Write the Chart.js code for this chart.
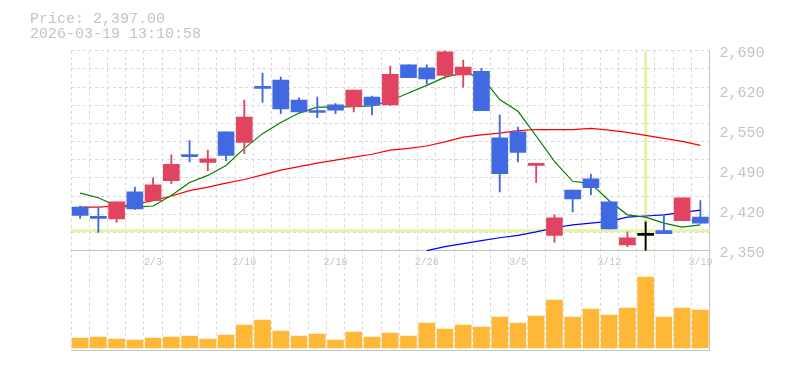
<!DOCTYPE html>
<html>
<head>
<meta charset="utf-8">
<script src="https://cdn.jsdelivr.net/npm/chart.js@4/dist/chart.umd.min.js"></script>
<style>
    body { margin: 0; background: #fff; }
    #wrap { position: relative; width: 785px; height: 370px; }
    .info { position: absolute; left: 30px; font-family: "Liberation Mono", monospace; font-size: 15px; line-height: 15px; color: #c4c4c4; white-space: pre; }
</style>
</head>
<body>
<div id="wrap">
    <canvas id="chart" width="785" height="370"></canvas>
    <div class="info" style="top: 12px;">Price: 2,397.00</div>
    <div class="info" style="top: 27px;">2026-03-19 13:10:58</div>
</div>
<script>
// trading days
const dates = ['1/28','1/29','1/30','2/2','2/3','2/4','2/5','2/6','2/9','2/10',
    '2/12','2/13','2/16','2/17','2/18','2/19','2/20','2/24','2/25','2/26',
    '2/27','3/2','3/3','3/4','3/5','3/6','3/9','3/10','3/11','3/12',
    '3/13','3/16','3/17','3/18','3/19'];
const xLabels = ['2/3','2/10','2/18','2/26','3/5','3/12','3/19'];

const open  = [2424,2406,2404,2450,2435,2469,2512,2500,2552,2534,2629,2640,2606,2588,2598,2595,2611,2598,2666,2661,2648,2649,2655,2542,2552,2495,2376,2453,2472,2433,2360,2376,2384,2401,2407];
const high  = [2426,2423,2433,2458,2474,2513,2537,2521,2552,2606,2652,2645,2610,2611,2600,2623,2613,2664,2666,2666,2690,2674,2660,2581,2560,2497,2411,2453,2480,2433,2382,2399,2412,2440,2435];
const low   = [2405,2381,2398,2420,2435,2464,2501,2486,2503,2515,2602,2583,2586,2576,2583,2586,2581,2597,2644,2633,2643,2628,2588,2450,2501,2466,2364,2416,2445,2387,2357,2345,2379,2401,2397];
const close = [2410,2405,2433,2421,2462,2497,2510,2506,2512,2577,2626,2591,2586,2585,2589,2623,2597,2650,2644,2642,2688,2662,2588,2481,2517,2497,2406,2438,2457,2387,2372,2376,2379,2440,2397];

const ma5  = [2448,2440,2426,2424,2426,2444,2466,2478,2495,2524,2549,2568,2584,2594,2594,2595,2596,2605,2618,2631,2645,2652,2646,2607,2587,2545,2502,2468,2464,2435,2411,2407,2397,2390,2394];
const ma25 = [2424,2424,2426,2429,2435,2443,2452,2458,2465,2471,2479,2487,2493,2499,2504,2509,2514,2521,2524,2528,2535,2543,2547,2550,2554,2556,2556,2556,2558,2555,2551,2546,2541,2536,2529];
const ma75 = [null,null,null,null,null,null,null,null,null,null,null,null,null,null,null,null,null,null,null,
    2350,2357,2362,2367,2372,2376,2382,2389,2394,2397,2400,2407,2409,2411,2415,2419];

// volume (thousand shares)
const volume = [100,110,90,80,100,110,120,90,130,230,280,170,120,140,80,160,110,150,120,250,190,230,210,310,250,320,480,310,390,330,400,710,310,400,380];

const priceTicks  = [2350, 2418, 2486, 2554, 2622, 2690];
const priceLabels = ['2,350','2,420','2,490','2,550','2,620','2,690'];

const crossIndex = 31;
const crossPrice = 2384;

const UP = '#e0445f', DOWN = '#4169e1', FLAT = '#000000';
const candleColor = open.map((o, i) => close[i] > o ? UP : close[i] < o ? DOWN : FLAT);
const GRID = '#d9d9d9', AXIS = '#c3c3c3', TEXT = '#c4c4c4';
const MONO = "'Liberation Mono', monospace";

const crosshair = {
    id: 'crosshair',
    beforeDatasetsDraw(chart) {
        const { ctx, chartArea, scales } = chart;
        const cx = scales.x.getPixelForValue(crossIndex);
        const cy = scales.y.getPixelForValue(crossPrice);
        const bottom = scales.y.getPixelForValue(priceTicks[0]);
        ctx.save();
        ctx.strokeStyle = '#e3f4a6';
        ctx.lineWidth = 3;
        ctx.beginPath();
        ctx.moveTo(cx, chartArea.top);
        ctx.lineTo(cx, bottom);
        ctx.moveTo(chartArea.left, cy);
        ctx.lineTo(chartArea.right, cy);
        ctx.stroke();
        ctx.restore();
    }
};

const ctx = document.getElementById('chart').getContext('2d');
new Chart(ctx, {
    type: 'bar',
    data: {
        labels: dates,
        datasets: [
            {
                label: 'body',
                data: open.map((o, i) => [o, close[i]]),
                backgroundColor: candleColor,
                barThickness: 16,
                minBarLength: 2,
                grouped: false,
                yAxisID: 'y',
                order: 0
            },
            {
                label: 'wick',
                data: low.map((l, i) => [l, high[i]]),
                backgroundColor: candleColor,
                barThickness: 1.2,
                grouped: false,
                yAxisID: 'y',
                clip: { left: false, top: 0, right: false, bottom: -99.3 },
                order: 1
            },
            { type: 'line', label: 'MA5', data: ma5, borderColor: '#008000', borderWidth: 1.2, pointRadius: 0, yAxisID: 'y', order: 2 },
            { type: 'line', label: 'MA25', data: ma25, borderColor: '#ff0000', borderWidth: 1.2, pointRadius: 0, yAxisID: 'y', order: 3 },
            { type: 'line', label: 'MA75', data: ma75, borderColor: '#0000ff', borderWidth: 1.2, pointRadius: 0, yAxisID: 'y', order: 4 },
            {
                label: 'volume',
                data: volume,
                backgroundColor: '#feb836',
                barThickness: 16,
                grouped: false,
                yAxisID: 'yv',
                order: 5
            }
        ]
    },
    options: {
        responsive: false,
        animation: false,
        layout: { padding: { left: 71, top: 50.7, right: 0, bottom: 20 } },
        plugins: { legend: { display: false }, tooltip: { enabled: false } },
        scales: {
            x: {
                type: 'category',
                position: { y: priceTicks[0] },
                offset: true,
                grid: { color: GRID, offset: true, drawTicks: false },
                border: { color: AXIS, dash: [3, 3] },
                ticks: {
                    autoSkip: false,
                    maxRotation: 0,
                    padding: 6,
                    color: TEXT,
                    font: { family: MONO, size: 10 },
                    callback: (v, i) => xLabels.includes(dates[i]) ? dates[i] : ''
                }
            },
            x2: {
                type: 'category',
                position: 'bottom',
                grid: { display: false, drawTicks: false },
                ticks: { display: false },
                border: { color: AXIS },
                afterFit: s => { s.height = 0; }
            },
            y: {
                position: 'right',
                min: 2181.2,
                max: 2690,
                grid: { display: false, drawTicks: false },
                border: { color: AXIS },
                afterBuildTicks: s => { s.ticks = priceTicks.map(v => ({ value: v })); },
                afterFit: s => { s.width = 75.5; },
                ticks: {
                    padding: 10,
                    labelOffset: 2.5,
                    color: TEXT,
                    font: { family: MONO, size: 15 },
                    callback: (v, i) => priceLabels[i]
                }
            },
            yg: {
                position: 'left',
                min: 2181.2,
                max: 2690,
                grid: { color: GRID, drawTicks: false },
                border: { display: false, dash: [3, 3] },
                ticks: { display: false },
                afterBuildTicks: s => {
                    const t = [];
                    for (let k = 0; k < 11; k++) t.push({ value: 2690 - k * 340 / 11 });
                    s.ticks = t;
                },
                afterFit: s => { s.width = 0; }
            },
            yv: {
                display: false,
                min: -20,
                max: 2973
            }
        }
    },
    plugins: [crosshair]
});
</script>
</body>
</html>
